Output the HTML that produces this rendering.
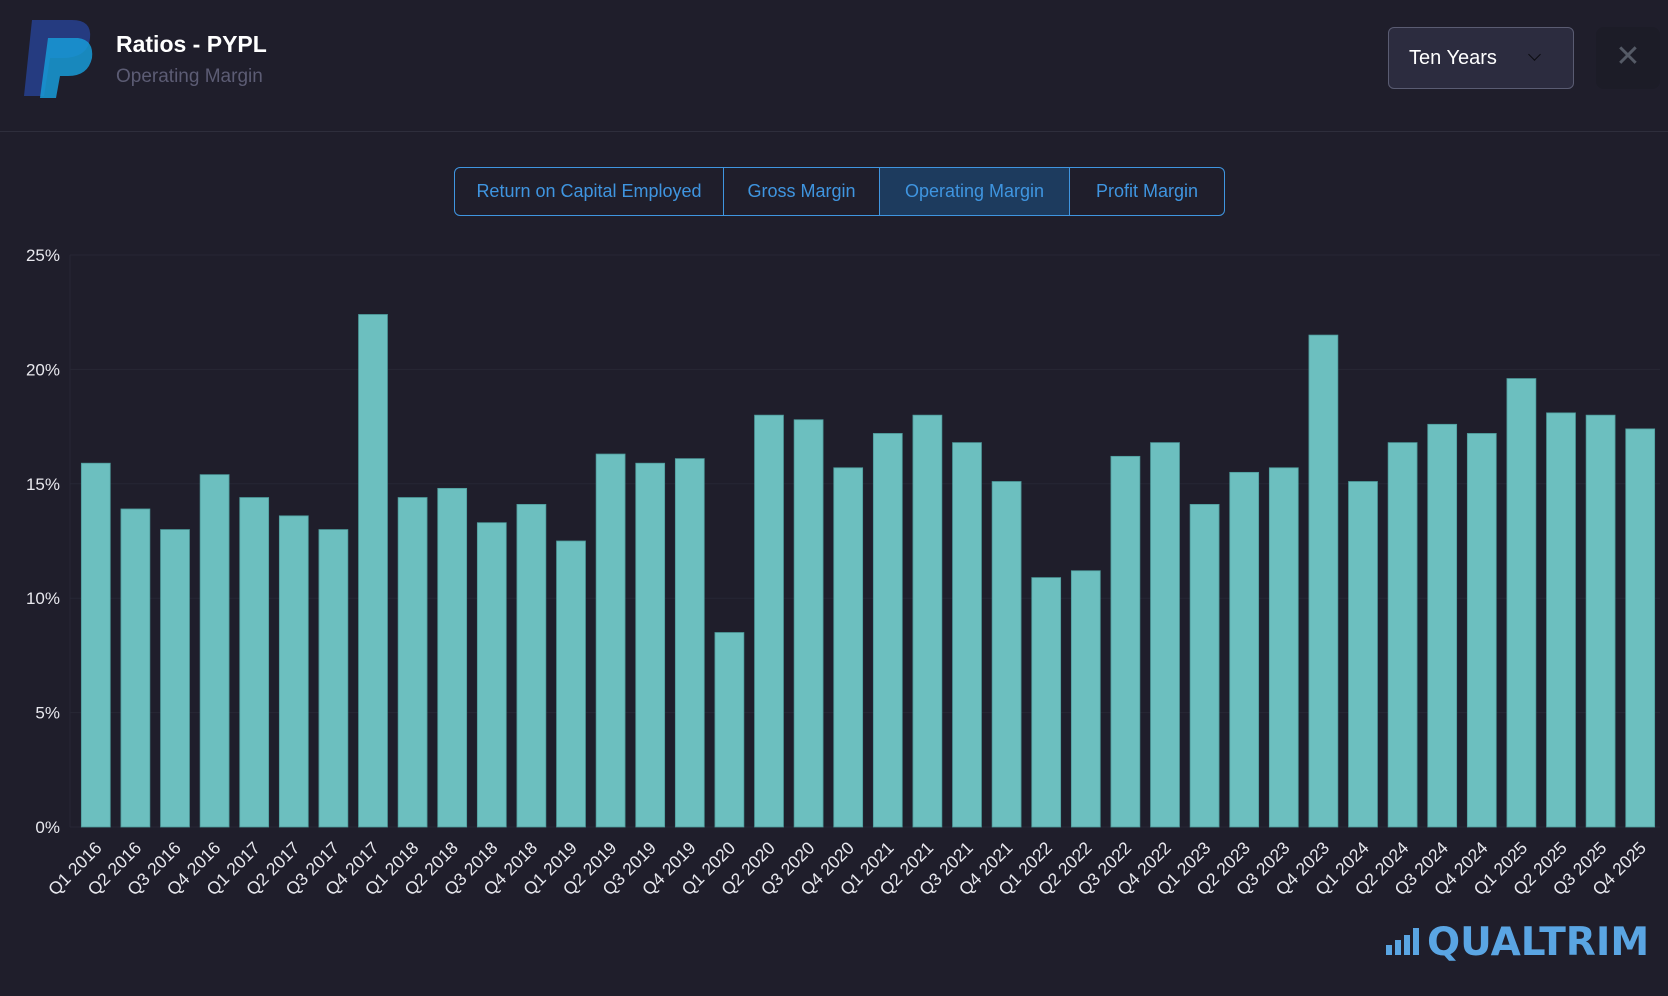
<!DOCTYPE html>
<html><head><meta charset="utf-8"><style>
body{margin:0;background:#1f1e2b;width:1668px;height:996px;overflow:hidden;font-family:"Liberation Sans",sans-serif;position:relative}
.abs{position:absolute}
.tab{position:absolute;top:167px;height:49px;line-height:49px;text-align:center;color:#3f95e0;font-size:18px;box-sizing:border-box}
</style></head><body>
<svg class="abs" style="left:22px;top:18px" width="76" height="82" viewBox="0 0 76 82">
<path d="M10 2 L50 2 Q70 2 68 20 Q66 40 40 40 L28 40 L22 78 L2 78 Z" fill="#253b80"/>
<path d="M26 20 L56 20 Q72 22 70 40 Q66 58 46 58 L38 58 L34 80 L18 80 Z" fill="#179bd7" opacity="0.85"/>
</svg>
<div class="abs" style="left:116px;top:31px;color:#fff;font-size:23px;font-weight:bold">Ratios - PYPL</div>
<div class="abs" style="left:116px;top:66px;color:#5c5c74;font-size:19px">Operating Margin</div>
<div class="abs" style="left:1388px;top:27px;width:186px;height:62px;box-sizing:border-box;border:1px solid #5a5c72;border-radius:6px;background:#2c2c3f;color:#fff;font-size:20px;line-height:60px;padding-left:20px">Ten Years<span style="position:absolute;right:34px;top:22px;width:8px;height:8px;border-right:1.5px solid #0d0d12;border-bottom:1.5px solid #0d0d12;transform:rotate(45deg)"></span></div>
<div class="abs" style="left:1596px;top:27px;width:64px;height:62px;border-radius:8px;background:#1c1c27;color:#555a66;font-size:30px;text-align:center;line-height:60px">✕</div>
<div class="abs" style="left:0;top:131px;width:1668px;height:1px;background:#2e2e3c"></div>
<div class="abs" style="left:454px;top:167px;width:771px;height:49px;box-sizing:border-box;border:1px solid #3f95e0;border-radius:6px;overflow:hidden">
</div>
<div class="tab" style="left:455px;width:268px">Return on Capital Employed</div>
<div class="tab" style="left:723px;width:156px;border-left:1px solid #3f95e0">Gross Margin</div>
<div class="tab" style="left:879px;width:190px;top:168px;height:47px;line-height:47px;background:#1d3b5e;border-left:1px solid #3f95e0">Operating Margin</div>
<div class="tab" style="left:1069px;width:155px;border-left:1px solid #3f95e0">Profit Margin</div>
<svg id="chart" class="abs" style="left:0;top:0" width="1668" height="996"></svg>
<div class="abs" style="left:1386px;top:925px;height:36px;color:#5aa5e3;font-size:39px;font-weight:900;font-family:'DejaVu Sans',sans-serif;letter-spacing:0px;line-height:36px;white-space:nowrap">
<span style="display:inline-block;width:6px;height:10px;background:#5aa5e3;margin-right:3px"></span><span style="display:inline-block;width:6px;height:15px;background:#5aa5e3;margin-right:3px"></span><span style="display:inline-block;width:6px;height:20px;background:#5aa5e3;margin-right:3px"></span><span style="display:inline-block;width:6px;height:27px;background:#5aa5e3;margin-right:8px"></span>QUALTRIM</div>
<script>
const categories=["Q1 2016","Q2 2016","Q3 2016","Q4 2016","Q1 2017","Q2 2017","Q3 2017","Q4 2017","Q1 2018","Q2 2018","Q3 2018","Q4 2018","Q1 2019","Q2 2019","Q3 2019","Q4 2019","Q1 2020","Q2 2020","Q3 2020","Q4 2020","Q1 2021","Q2 2021","Q3 2021","Q4 2021","Q1 2022","Q2 2022","Q3 2022","Q4 2022","Q1 2023","Q2 2023","Q3 2023","Q4 2023","Q1 2024","Q2 2024","Q3 2024","Q4 2024","Q1 2025","Q2 2025","Q3 2025","Q4 2025"];
const values=[15.9,13.9,13.0,15.4,14.4,13.6,13.0,22.4,14.4,14.8,13.3,14.1,12.5,16.3,15.9,16.1,8.5,18.0,17.8,15.7,17.2,18.0,16.8,15.1,10.9,11.2,16.2,16.8,14.1,15.5,15.7,21.5,15.1,16.8,17.6,17.2,19.6,18.1,18.0,17.4];
const yTicks=[0,5,10,15,20,25];
const yLabels=["0%","5%","10%","15%","20%","25%"];
const svg=document.getElementById('chart');const NS='http://www.w3.org/2000/svg';
const L=76,R=1660,T=255,B=827,yMax=25;
const y=v=>B-(v/yMax)*(B-T);
const band=(R-L)/categories.length;
const x=i=>L+band*i;
function mk(t,a){const e=document.createElementNS(NS,t);for(const k in a)e.setAttribute(k,a[k]);svg.appendChild(e);return e;}
yTicks.forEach((t,i)=>{
 const g=mk('line',{x1:L-6,x2:R,y1:y(t),y2:y(t),stroke:'#272735','stroke-width':1});
 
 
 const tx=mk('text',{x:60,y:y(t)+6,'text-anchor':'end',fill:'#e8e8ee','font-size':17,'font-family':'Liberation Sans, sans-serif'});
 tx.textContent=yLabels[i];
 
 
});
const ax=mk('line',{x1:L-6,x2:L-6,y1:T,y2:B,stroke:'#272735'});


const bw=band*0.73;
values.forEach((v,i)=>{
 const cx=x(i)+band/2;
 const r=mk('rect',{x:cx-bw/2,y:y(v),width:bw,height:B-y(v),fill:'#6cbfbf',stroke:'#4e9c9c','stroke-width':0.8});
 
 
 const t=mk('text',{x:cx+7,y:B+22,'text-anchor':'end',fill:'#e8e8ee','font-size':17.5,'font-family':'Liberation Sans, sans-serif',transform:`rotate(-45 ${cx+7} ${B+22})`});
 t.textContent=categories[i];
 
 
});
</script>
</body></html>
